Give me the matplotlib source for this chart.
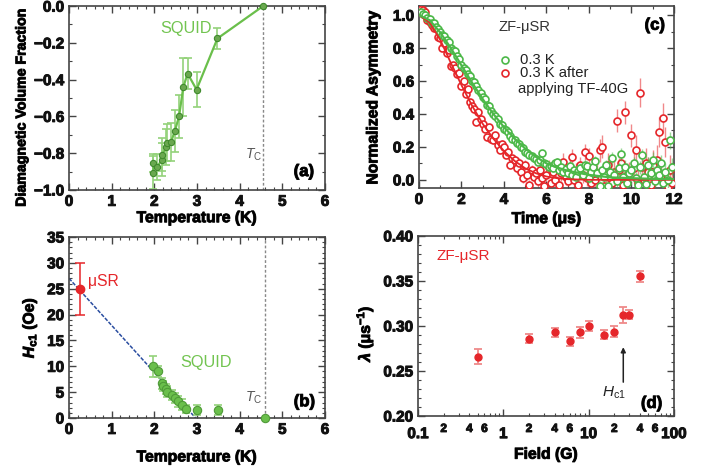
import math
import numpy as np
import matplotlib
matplotlib.use('Agg')
import matplotlib.pyplot as plt
import matplotlib.patheffects as pe
from matplotlib.ticker import MultipleLocator, LogLocator, FuncFormatter

plt.rcParams['font.family'] = ['Liberation Sans', 'DejaVu Sans']
plt.rcParams['font.weight'] = 'bold'
plt.rcParams['axes.labelweight'] = 'bold'
plt.rcParams['mathtext.fontset'] = 'custom'
plt.rcParams['mathtext.rm'] = 'Liberation Sans:normal'
plt.rcParams['mathtext.it'] = 'Liberation Sans:italic:normal'
plt.rcParams['mathtext.bf'] = 'Liberation Sans:bold'
plt.rcParams['mathtext.bfit'] = 'Liberation Sans:italic:bold'

GREEN = '#6abf4b'
DKGREEN = '#3f8a2c'
LTGREEN = '#93d27a'
RED = '#e5262a'
FRAME = '#444444'
HEAVY = [pe.withStroke(linewidth=0.7, foreground='#111111')]

# ---- (a) diamagnetic volume fraction (SQUID)
a_temp = [1.98, 1.98, 2.07, 2.17, 2.19, 2.27, 2.29, 2.39, 2.48, 2.58, 2.68, 2.78, 2.99, 3.48, 4.55]
a_frac = [-0.907, -0.853, -0.876, -0.836, -0.809, -0.767, -0.744, -0.740, -0.68, -0.60,
          -0.44, -0.367, -0.454, -0.176, 0.0]
a_err = [0.09, 0.05, 0.07, 0.09, 0.09, 0.10, 0.10, 0.105, 0.115, 0.115, 0.16, 0.085, 0.095, 0.055, 0.0]
TC_A = 4.55

# ---- (b) Hc1 vs temperature
b_temp = [1.98, 2.09, 2.17, 2.21, 2.27, 2.30, 2.41, 2.48, 2.56, 2.64, 2.74, 3.0, 3.5, 4.6]
b_hc1 = [10.0, 9.0, 6.7, 6.2, 5.6, 5.1, 4.5, 3.85, 3.2, 2.6, 1.7, 1.5, 1.5, 0.0]
b_err = [2.0, 1.0, 1.0, 1.0, 1.0, 1.0, 1.0, 1.0, 1.0, 1.0, 0.8, 1.0, 1.0, 0.0]
musr_temp = [0.26]
musr_hc1 = [25.0]
musr_err = [5.0]
lin_temp = [0.0, 2.97]
lin_hc1 = [27.0, 0.0]
TC_B = 4.6

# ---- (c) ZF-muSR asymmetry
t_green = [0.1, 0.2, 0.3, 0.4, 0.5, 0.6, 0.7, 0.8, 0.9, 1.0,
           1.1, 1.2, 1.3, 1.4, 1.5, 1.6, 1.7, 1.8, 1.9, 2.0,
           2.1, 2.2, 2.3, 2.4, 2.5, 2.6, 2.7, 2.8, 2.9, 3.0,
           3.1, 3.2, 3.3, 3.4, 3.5, 3.6, 3.7, 3.8, 3.9, 4.0,
           4.1, 4.2, 4.3, 4.4, 4.5, 4.6, 4.7, 4.8, 4.9, 5.0,
           5.1, 5.2, 5.3, 5.4, 5.5, 5.6, 5.7, 5.8, 5.9, 6.0,
           6.1, 6.2, 6.3, 6.4, 6.5, 6.6, 6.7, 6.8, 6.9, 7.0,
           7.1, 7.2, 7.3, 7.4, 7.5, 7.6, 7.7, 7.8, 7.9, 8.0,
           8.1, 8.2, 8.3, 8.4, 8.5, 8.6, 8.7, 8.8, 8.9, 9.0,
           9.1, 9.2, 9.3, 9.4, 9.5, 9.6, 9.7, 9.8, 9.9, 10.0,
           10.1, 10.2, 10.3, 10.4, 10.5, 10.6, 10.7, 10.8, 10.9, 11.0,
           11.1, 11.2, 11.3, 11.4, 11.5, 11.6, 11.7, 11.8, 11.9]
a_green = [1.02, 1.01, 1.00, 0.98, 0.975, 0.95, 0.955, 0.93, 0.915, 0.90,
           0.88, 0.875, 0.85, 0.84, 0.80, 0.79, 0.78, 0.75, 0.735, 0.70,
           0.68, 0.665, 0.64, 0.63, 0.60, 0.595, 0.57, 0.545, 0.53, 0.50,
           0.49, 0.455, 0.45, 0.42, 0.40, 0.385, 0.37, 0.34, 0.335, 0.31,
           0.30, 0.29, 0.265, 0.25, 0.24, 0.225, 0.22, 0.20, 0.195, 0.17,
           0.16, 0.15, 0.145, 0.13, 0.125, 0.11, 0.12, 0.16, 0.10, 0.095,
           0.08, 0.085, 0.07, 0.10, 0.11, 0.06, 0.075, 0.05, 0.065, 0.04,
           0.085, 0.03, 0.06, 0.02, 0.055, 0.07, 0.03, 0.09, 0.085, 0.01,
           0.05, 0.075, 0.115, 0.04, -0.04, 0.06, 0.02, 0.09, -0.035, 0.05,
           0.13, 0.03, -0.01, 0.07, 0.155, 0.02, 0.08, -0.02, 0.04, 0.06,
           0.10, 0.01, -0.03, 0.075, 0.15, 0.02, -0.025, 0.09, 0.04, 0.12,
           -0.01, 0.06, 0.03, 0.10, -0.02, 0.05, 0.0, 0.24, 0.08]
e_green = [0.01] * 50 + [0.015] * 10 + [0.02] * 10 + [0.03] * 20 + [0.04] * 15 + [0.05] * 14

t_red = list(t_green)
a_red = [1.04, 1.03, 1.02, 0.97, 0.96, 0.94, 0.92, 0.92, 0.87, 0.86,
         0.80, 0.83, 0.77, 0.79, 0.69, 0.70, 0.68, 0.64, 0.65, 0.57,
         0.60, 0.52, 0.55, 0.47, 0.45, 0.43, 0.35, 0.41, 0.37, 0.34,
         0.31, 0.26, 0.32, 0.25, 0.24, 0.27, 0.21, 0.18, 0.22, 0.20,
         0.15, 0.17, 0.09, 0.13, 0.12, 0.07, 0.10, 0.05, 0.01, 0.09,
         0.03, -0.03, 0.06, 0.02, 0.04, -0.01, 0.06, 0.01, -0.04, 0.03,
         0.08, -0.02, 0.05, 0.0, 0.09, -0.03, 0.04, 0.11, 0.02, -0.01,
         0.07, 0.14, 0.0, 0.05, -0.03, 0.09, 0.03, 0.17, 0.01, 0.145,
         -0.02, 0.06, 0.0, 0.04, 0.18, 0.20, -0.04, 0.03, 0.09, 0.01,
         -0.02, 0.05, 0.36, 0.06, 0.10, -0.03, 0.41, 0.03, 0.04, 0.27,
         0.07, 0.18, -0.02, 0.53, 0.08, 0.0, 0.105, 0.05, -0.03, 0.09,
         0.02, 0.12, 0.29, 0.01, 0.375, 0.23, -0.045, 0.06, -0.02]
e_red = [0.015] * 30 + [0.02] * 15 + [0.03] * 10 + [0.04] * 10 + [0.05] * 15 + [0.07] * 20 + [0.09] * 19

fit_t = [0, 0.5, 1, 1.5, 2, 2.5, 3, 3.5, 4, 4.5, 5, 5.5, 6, 6.5, 7, 8, 9, 10, 11, 12]
fit_green = [1.0, 0.97, 0.895, 0.80, 0.695, 0.59, 0.49, 0.40, 0.32, 0.25,
             0.19, 0.14, 0.10, 0.075, 0.055, 0.03, 0.015, 0.01, 0.006, 0.004]
fit_red = [1.0, 0.955, 0.85, 0.71, 0.575, 0.45, 0.34, 0.25, 0.175, 0.115,
           0.07, 0.04, 0.02, 0.01, 0.004, 0.0, 0.0, 0.0, 0.0, 0.0]

# ---- (d) relaxation rate vs field
d_field = [0.5, 2, 4, 6, 8, 10, 15, 20, 25, 30, 40]
d_lam = [0.266, 0.286, 0.293, 0.283, 0.293, 0.300, 0.290, 0.2935, 0.3125, 0.3125, 0.355]
d_err = [0.008, 0.005, 0.005, 0.005, 0.006, 0.006, 0.005, 0.006, 0.009, 0.005, 0.006]
HC1_FIELD = 25.5


def style(ax):
    ax.tick_params(which='both', direction='in', top=True, right=True,
                   color=FRAME, labelsize=11, labelcolor='#111111')
    ax.tick_params(which='major', length=5, width=1)
    ax.tick_params(which='minor', length=2.5, width=0.8)
    for s in ax.spines.values():
        s.set_color(FRAME)
        s.set_linewidth(1.2)


fig = plt.figure(figsize=(7.07, 4.69), dpi=100)
ax_a = fig.add_axes([0.0976, 0.595, 0.362, 0.392])
ax_c = fig.add_axes([0.5926, 0.599, 0.3607, 0.388])
ax_b = fig.add_axes([0.0976, 0.1087, 0.362, 0.386])
ax_d = fig.add_axes([0.5912, 0.113, 0.362, 0.384])

# (a)
ax_a.errorbar(a_temp, a_frac, yerr=a_err, fmt='none', ecolor=LTGREEN, elinewidth=1.2,
              capsize=3, capthick=1.2, zorder=2, clip_on=False)
ax_a.plot(a_temp, a_frac, '-', color=GREEN, lw=1.6, zorder=3, clip_on=False)
ax_a.plot(a_temp, a_frac, 'o', ms=4.5, mfc='#6aa84f', mec=DKGREEN, mew=0.8, zorder=4, clip_on=False)
ax_a.axvline(TC_A, color='#888888', lw=1, ls=(0, (2, 1.5)), zorder=1)
ax_a.text(4.32, -0.81, r'$T_{\mathrm{C}}$', color='#555555', fontsize=10, fontweight='normal',
          ha='center', va='center')
ax_a.text(2.13, -0.122, 'SQUID', color='#72c450', fontsize=11.7, fontweight='normal', ha='left', va='center')
ax_a.text(0.918, 0.10, '(a)', transform=ax_a.transAxes, fontsize=12, ha='center', va='center',
          path_effects=HEAVY)
ax_a.set_xlim(0, 6)
ax_a.set_ylim(-1.0, 0.0)
ax_a.xaxis.set_major_locator(MultipleLocator(1))
ax_a.xaxis.set_minor_locator(MultipleLocator(0.2))
ax_a.yaxis.set_major_locator(MultipleLocator(0.2))
ax_a.yaxis.set_minor_locator(MultipleLocator(0.1))
ax_a.yaxis.set_major_formatter(FuncFormatter(lambda v, p: f'{v:.1f}'.replace('-', '\u2212')))
ax_a.set_xlabel('Temperature (K)', fontsize=11.3, labelpad=1)
ax_a.set_ylabel('Diamagnetic Volume Fraction', fontsize=10.2, labelpad=4)
ax_a.yaxis.label.set_y(0.446)
style(ax_a)

# (b)
ax_b.plot(lin_temp, lin_hc1, color='#2a4da0', lw=1.1, ls=(0, (2.5, 1)), zorder=2)
ax_b.errorbar(b_temp, b_hc1, yerr=b_err, fmt='none', ecolor=LTGREEN, elinewidth=1.2,
              capsize=3, capthick=1.2, zorder=3, clip_on=False)
ax_b.plot(b_temp, b_hc1, 'o', ms=6, mfc=GREEN, mec='#4f9a38', mew=0.8, zorder=4, clip_on=False)
ax_b.errorbar(musr_temp, musr_hc1, yerr=musr_err, fmt='o', ms=6, color=RED, mec=RED,
              elinewidth=1.1, capsize=3.5, capthick=1.1, zorder=5)
ax_b.axvline(TC_B, color='#888888', lw=1, ls=(0, (2, 1.5)), zorder=1)
ax_b.text(4.32, 3.85, r'$T_{\mathrm{C}}$', color='#555555', fontsize=10, fontweight='normal',
          ha='center', va='center')
ax_b.text(2.6, 10.7, 'SQUID', color='#72c450', fontsize=11.7, fontweight='normal', ha='left', va='center')
ax_b.text(0.45, 26.3, '\u03bcSR', color=RED, fontsize=11.3, fontweight='normal', ha='left', va='center')
ax_b.text(0.92, 0.09, '(b)', transform=ax_b.transAxes, fontsize=12, ha='center', va='center',
          path_effects=HEAVY)
ax_b.set_xlim(0, 6)
ax_b.set_ylim(0, 35)
ax_b.xaxis.set_major_locator(MultipleLocator(1))
ax_b.xaxis.set_minor_locator(MultipleLocator(0.2))
ax_b.yaxis.set_major_locator(MultipleLocator(5))
ax_b.yaxis.set_minor_locator(MultipleLocator(1))
ax_b.set_xlabel('Temperature (K)', fontsize=11.3, labelpad=9)
ax_b.set_ylabel(r'$\mathbfit{H}_{\mathbf{c1}}$ (Oe)', fontsize=11.3, labelpad=6)
style(ax_b)

# (c)
ax_c.errorbar(t_red, a_red, yerr=e_red, fmt='none', ecolor=RED, alpha=0.55, elinewidth=1.0, zorder=2)
ax_c.plot(t_red, a_red, 'o', ms=5, mfc='white', mec=RED, mew=1.2, zorder=3)
ax_c.errorbar(t_green, a_green, yerr=e_green, fmt='none', ecolor='#4cb848', alpha=0.55, elinewidth=1.0, zorder=4)
ax_c.plot(t_green, a_green, 'o', ms=5, mfc='white', mec='#4cb848', mew=1.2, zorder=5)
ax_c.plot(fit_t, fit_red, '-', color=RED, lw=1.3, zorder=6)
ax_c.plot(fit_t, fit_green, '-', color='#4cb848', lw=1.6, zorder=7)
ax_c.text(0.311, 0.887, 'ZF-\u03bcSR', transform=ax_c.transAxes, color='#333333', fontsize=10.6,
          fontweight='normal', ha='left', va='center')
ax_c.plot([0.337], [0.705], 'o', transform=ax_c.transAxes, ms=5, mfc='white', mec='#4cb848', mew=1.2)
ax_c.plot([0.337], [0.634], 'o', transform=ax_c.transAxes, ms=5, mfc='white', mec=RED, mew=1.2)
ax_c.text(0.396, 0.705, '0.3 K', transform=ax_c.transAxes, color='#222222', fontsize=10.6,
          fontweight='normal', ha='left', va='center')
ax_c.text(0.396, 0.634, '0.3 K after', transform=ax_c.transAxes, color='#222222', fontsize=10.6,
          fontweight='normal', ha='left', va='center')
ax_c.text(0.39, 0.545, 'applying TF-40G', transform=ax_c.transAxes, color='#222222', fontsize=10.6,
          fontweight='normal', ha='left', va='center')
ax_c.text(0.925, 0.895, '(c)', transform=ax_c.transAxes, fontsize=12, ha='center', va='center',
          path_effects=HEAVY)
ax_c.set_xlim(0, 12)
ax_c.set_ylim(-0.05, 1.055)
ax_c.xaxis.set_major_locator(MultipleLocator(2))
ax_c.xaxis.set_minor_locator(MultipleLocator(1))
ax_c.yaxis.set_major_locator(MultipleLocator(0.2))
ax_c.yaxis.set_minor_locator(MultipleLocator(0.1))
ax_c.yaxis.set_major_formatter(FuncFormatter(lambda v, p: f'{v:.1f}'))
ax_c.set_xlabel('Time (\u03bcs)', fontsize=11.3, labelpad=3)
ax_c.set_ylabel('Normalized Asymmetry', fontsize=11.3, labelpad=9)
style(ax_c)

# (d)
ax_d.errorbar(d_field, d_lam, yerr=d_err, fmt='none', ecolor='#ef8a8a', elinewidth=1.3,
              capsize=3, capthick=1.3, zorder=2)
ax_d.plot(d_field, d_lam, 'o', ms=5, color=RED, zorder=3)
ax_d.annotate('', xy=(HC1_FIELD, 0.2795), xytext=(HC1_FIELD, 0.2345),
              arrowprops=dict(arrowstyle='-|>', color='#222222', lw=1.1, mutation_scale=7))
ax_d.text(20, 0.2253, r'$H_{\mathrm{c1}}$', color='#222222', fontsize=11, fontweight='normal',
          ha='center', va='center')
ax_d.text(0.072, 0.89, 'ZF-\u03bcSR', transform=ax_d.transAxes, color=RED, fontsize=11,
          fontweight='normal', ha='left', va='center')
ax_d.text(0.913, 0.07, '(d)', transform=ax_d.transAxes, fontsize=12, ha='center', va='center',
          path_effects=HEAVY)
ax_d.set_xscale('log')
ax_d.set_xlim(0.1, 100)
ax_d.set_ylim(0.20, 0.40)
ax_d.xaxis.set_major_locator(LogLocator(base=10))
ax_d.xaxis.set_minor_locator(LogLocator(base=10, subs=(2, 3, 4, 5, 6, 7, 8, 9)))
ax_d.xaxis.set_major_formatter(FuncFormatter(lambda v, p: f'{v:g}'))


def minor_fmt(v, p):
    m = int(round(v / 10 ** math.floor(math.log10(v) + 1e-9)))
    return str(m) if m in (2, 4, 6) else ''


ax_d.xaxis.set_minor_formatter(FuncFormatter(minor_fmt))
ax_d.yaxis.set_major_locator(MultipleLocator(0.05))
ax_d.yaxis.set_minor_locator(MultipleLocator(0.01))
ax_d.yaxis.set_major_formatter(FuncFormatter(lambda v, p: f'{v:.2f}'))
ax_d.set_xlabel('Field (G)', fontsize=11.3, labelpad=4)
ax_d.set_ylabel(r'$\mathbfit{\lambda}$ ($\mathbf{\mu}$s$^{\mathbf{-1}}$)', fontsize=11.3, labelpad=6)
ax_d.yaxis.label.set_y(0.46)
style(ax_d)
ax_d.tick_params(axis='x', which='major', pad=8)
ax_d.tick_params(axis='x', which='minor', labelsize=8.5, pad=5)

# the reference type is heavy: thicken tick labels and axis labels a touch
fig.canvas.draw()
for ax in (ax_a, ax_b, ax_c, ax_d):
    for lab in ax.get_xticklabels(which='both') + ax.get_yticklabels(which='both'):
        lab.set_path_effects(HEAVY)
    ax.xaxis.label.set_path_effects(HEAVY)
    ax.yaxis.label.set_path_effects(HEAVY)

fig.savefig('out.png', dpi=100)
